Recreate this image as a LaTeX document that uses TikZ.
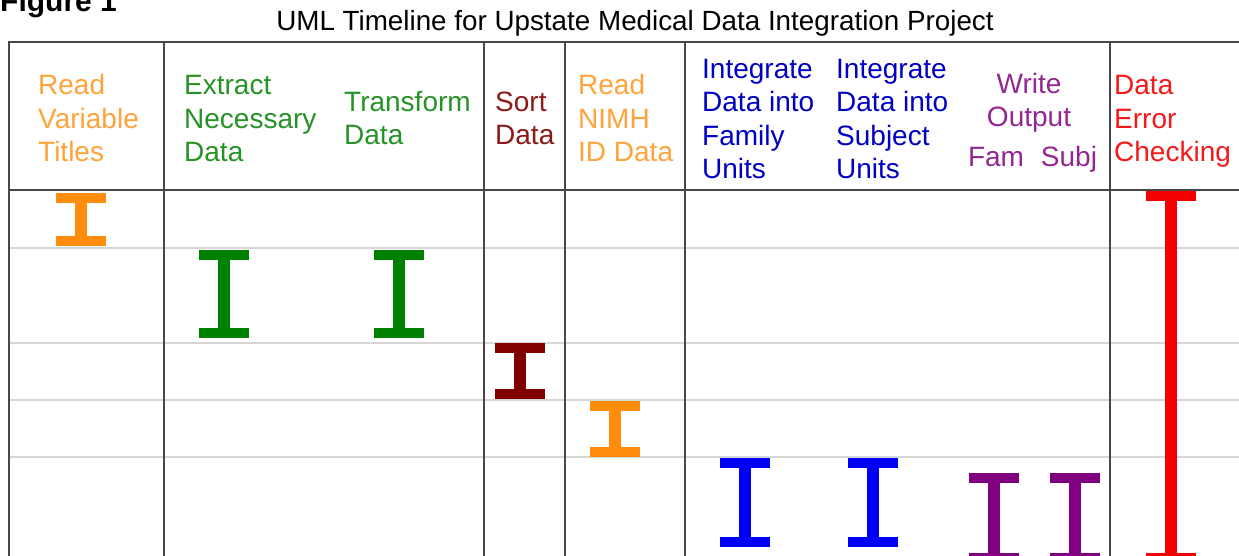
\documentclass[tikz,border=0pt]{standalone}
\usepackage{fontspec}
\setmainfont{Liberation Sans}
\usepackage{xcolor}

\definecolor{taskorange}{RGB}{255,140,10}
\definecolor{taskgreen}{RGB}{0,128,0}
\definecolor{taskmaroon}{RGB}{128,0,0}
\definecolor{taskblue}{RGB}{0,0,245}
\definecolor{taskpurple}{RGB}{128,0,128}
\definecolor{taskred}{RGB}{245,0,0}

\tikzset{
    frameline/.style={draw=black!72, line width=1.6pt},
    rowline/.style={draw=black!16, line width=1.6pt},
    task/.style={
        inner sep=0pt,
        align=left,
        anchor=base west,   % base = last line
        font=\fontsize{28}{33.5}\selectfont
    },
}

% one bar of the timeline: colour, x, top, bottom
\newcommand\timebar[4]{%
    \fill[#1] (#2-6,#3) rectangle (#2+6,#4);          % stem
    \fill[#1] (#2-25,#3) rectangle (#2+25,#3+10);     % top cap
    \fill[#1] (#2-25,#4-10) rectangle (#2+25,#4);     % bottom cap
}

\begin{document}
\begin{tikzpicture}[x=1pt, y=-1pt]
\clip (0,0) rectangle (1239,556);
\fill[white] (0,0) rectangle (1239,556);

\node[font=\fontsize{30}{30}\selectfont\bfseries, anchor=base west, inner sep=0pt]
    (fig) at (0,12) {Figure 1};
\node[font=\fontsize{27.8}{28}\selectfont, anchor=base, inner sep=0pt]
    (title) at (635,31) {UML Timeline for Upstate Medical Data Integration Project};

% light rows
\foreach \y in {248,343,400,457}
    \draw[rowline] (9,\y) -- (1239,\y);

% table frame and columns
\draw[frameline] (1239,42) -- (9,42) -- (9,570);
\draw[frameline] (9,190) -- (1239,190);
\foreach \x in {164,484,565,685,1110}
    \draw[frameline] (\x,42) -- (\x,570);

% column heads
\node[task, text=taskorange!80] (readvar) at (38,162) {Read\\Variable\\Titles};
\node[task, text=taskgreen!85] (extract) at (184,162) {Extract\\Necessary\\Data};
\node[task, text=taskgreen!85] (transform) at (344,145) {Transform\\Data};
\node[task, text=taskmaroon!90] (sortdata) at (495,145) {Sort\\Data};
\node[task, text=taskorange!80] (readnimh) at (578,162) {Read\\NIMH\\ID Data};
\node[task, text=taskblue!80!black] (famunits) at (702,179) {Integrate\\Data into\\Family\\Units};
\node[task, text=taskblue!80!black] (subjunits) at (836,179) {Integrate\\Data into\\Subject\\Units};
\node[task, align=center, anchor=base, text=taskpurple!85] (writeout) at (1029,127) {Write\\Output};
\node[task, anchor=base, text=taskpurple!85] (fam) at (996,167) {Fam};
\node[task, anchor=base, text=taskpurple!85] (subj) at (1069,167) {Subj};
\node[task, text=taskred!90] (errcheck) at (1114,162) {Data\\Error\\Checking};

% bars
\timebar{taskorange}{81}{193}{246}
\timebar{taskgreen}{224}{250}{338}
\timebar{taskgreen}{399}{250}{338}
\timebar{taskmaroon}{520}{343}{399}
\timebar{taskorange}{615}{401}{457}
\timebar{taskblue}{745}{458}{547}
\timebar{taskblue}{873}{458}{547}
\timebar{taskpurple}{994}{473}{563}
\timebar{taskpurple}{1075}{473}{563}
\timebar{taskred}{1171}{191}{563}
\end{tikzpicture}
\end{document}
